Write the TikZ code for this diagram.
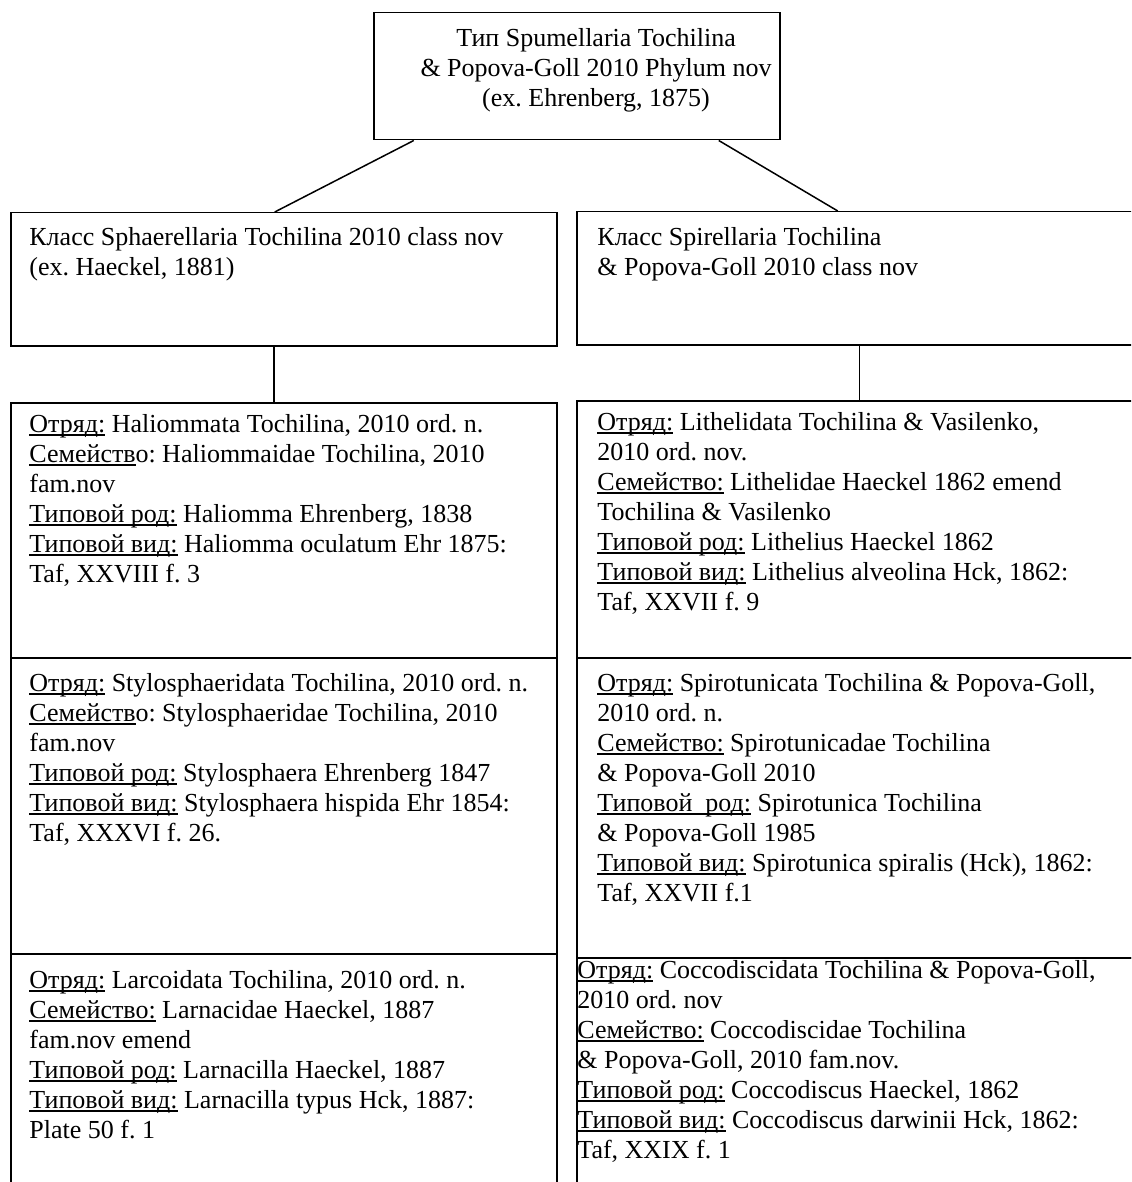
\documentclass[tikz,border=0pt]{standalone}
\usepackage{fontspec}
\setmainfont{Liberation Serif}
\usetikzlibrary{calc}
\frenchspacing
\newlength\ulwd
\newcommand\undl[1]{\leavevmode\settowidth{\ulwd}{#1}\rlap{\rule[-1.75pt]{\ulwd}{0.65pt}}#1}
\newcommand\blk[2]{\parbox[t]{#1}{\raggedright #2}}
\begin{document}
\frenchspacing
\begin{tikzpicture}[x=0.5pt,y=-0.5pt,
  box/.style={draw, line width=0.75pt, rectangle, inner sep=0pt, anchor=north west},
  txt/.style={inner sep=0pt, anchor=base west, font=\fontsize{13}{15}\selectfont},
  conn/.style={line width=0.75pt}]
\useasboundingbox (0,0) rectangle (1131,1182);
\clip (0,0) rectangle (1131,1182);
% boxes
\node[box, minimum width=203pt, minimum height=63.5pt] (top) at (373,12) {};
\node[box, minimum width=273pt, minimum height=66.5pt] (cls1) at (10,212) {};
\node[box, minimum width=284.5pt, minimum height=66.5pt] (cls2) at (576,211) {};
\node[box, minimum width=273pt, minimum height=127.5pt] (ord1) at (10,402) {};
\node[box, minimum width=273pt, minimum height=148pt] (ord2) at (10,657) {};
\node[box, minimum width=273pt, minimum height=121pt] (ord3) at (10,953) {};
\node[box, minimum width=284.5pt, minimum height=128.5pt] (ordR1) at (576,400) {};
\node[box, minimum width=284.5pt, minimum height=150pt] (ordR2) at (576,657) {};
\node[box, minimum width=284.5pt, minimum height=119pt] (ordR3) at (576,957) {};
% connectors
\draw[conn] ([xshift=-81.5pt]top.south) -- ([xshift=-4.5pt]cls1.north);
\draw[conn] ([xshift=71pt]top.south) -- ([xshift=-11.75pt]cls2.north);
\draw[conn] ([xshift=-5pt]cls1.south) -- ([xshift=-5pt]ord1.north);
\draw[conn] ([xshift=-1pt]cls2.south) -- ([xshift=-1pt]ordR1.north);
% texts
\node[inner sep=0pt, anchor=base, font=\fontsize{13}{15}\selectfont] (toptxt) at (596,46.7)
  {\parbox[t]{250pt}{\centering Тип Spumellaria Tochilina\\
  \& Popova-Goll 2010 Phylum nov\\
  (ex. Ehrenberg, 1875)}};
\node[txt] (c1t) at (29,245) {\blk{280pt}{Класс Sphaerellaria Tochilina 2010 class nov\\
  (ex. Haeckel, 1881)}};
\node[txt] (c2t) at (597,245) {\blk{280pt}{Класс Spirellaria Tochilina\\
  \& Popova-Goll 2010 class nov}};
\node[txt] (o1t) at (29,432) {\blk{280pt}{\undl{Отряд:} Haliommata Tochilina, 2010 ord. n.\\
  \undl{Семейств}о: Haliommaidae Tochilina, 2010\\
  fam.nov\\
  \undl{Типовой род:} Haliomma Ehrenberg, 1838\\
  \undl{Типовой вид:} Haliomma oculatum Ehr 1875:\\
  Taf, XXVIII f. 3}};
\node[txt] (o2t) at (29,691) {\blk{280pt}{\undl{Отряд:} Stylosphaeridata Tochilina, 2010 ord. n.\\
  \undl{Семейств}о: Stylosphaeridae Tochilina, 2010\\
  fam.nov\\
  \undl{Типовой род:} Stylosphaera Ehrenberg 1847\\
  \undl{Типовой вид:} Stylosphaera hispida Ehr 1854:\\
  Taf, XXXVI f. 26.}};
\node[txt] (o3t) at (29,988) {\blk{280pt}{\undl{Отряд:} Larcoidata Tochilina, 2010 ord. n.\\
  \undl{Семейство:} Larnacidae Haeckel, 1887\\
  fam.nov emend\\
  \undl{Типовой род:} Larnacilla Haeckel, 1887\\
  \undl{Типовой вид:} Larnacilla typus Hck, 1887:\\
  Plate 50 f. 1}};
\node[txt] (r1t) at (597,430) {\blk{280pt}{\undl{Отряд:} Lithelidata Tochilina \& Vasilenko,\\
  2010 ord. nov.\\
  \undl{Семейство:} Lithelidae Haeckel 1862 emend\\
  Tochilina \& Vasilenko\\
  \undl{Типовой род:} Lithelius Haeckel 1862\\
  \undl{Типовой вид:} Lithelius alveolina Hck, 1862:\\
  Taf, XXVII f. 9}};
\node[txt] (r2t) at (597,691) {\blk{280pt}{\undl{Отряд:} Spirotunicata Tochilina \& Popova-Goll,\\
  2010 ord. n.\\
  \undl{Семейство:} Spirotunicadae Tochilina\\
  \& Popova-Goll 2010\\
  \undl{Типовой\ \ род:} Spirotunica Tochilina\\
  \& Popova-Goll 1985\\
  \undl{Типовой вид:} Spirotunica spiralis (Hck), 1862:\\
  Taf, XXVII f.1}};
\node[txt] (r3t) at (577,978) {\blk{280pt}{\undl{Отряд:} Coccodiscidata Tochilina \& Popova-Goll,\\
  2010 ord. nov\\
  \undl{Семейство:} Coccodiscidae Tochilina\\
  \& Popova-Goll, 2010 fam.nov.\\
  \undl{Типовой род:} Coccodiscus Haeckel, 1862\\
  \undl{Типовой вид:} Coccodiscus darwinii Hck, 1862:\\
  Taf, XXIX f. 1}};
\end{tikzpicture}
\end{document}
